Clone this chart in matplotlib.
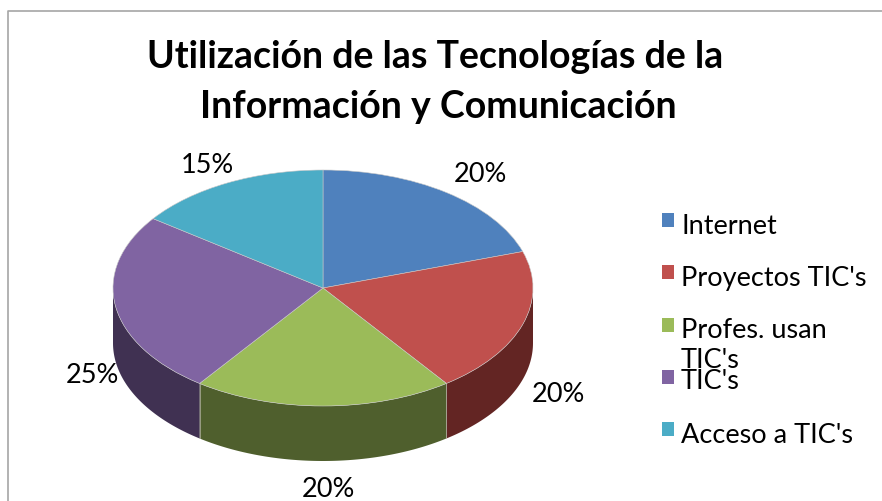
import numpy as np
import matplotlib
matplotlib.use("Agg")
import matplotlib.pyplot as plt
from matplotlib.patches import Rectangle

categories = ["Internet", "Proyectos TIC's", "Profes. usan\nTIC's", "TIC's", "Acceso a TIC's"]
values = [20, 20, 20, 25, 15]
top_colors = ["#4F81BD", "#C0504D", "#9BBB59", "#8064A2", "#4BACC6"]
side_colors = ["#2F4D71", "#632523", "#4F5F2D", "#403152", "#276A7C"]
title_lines = "Utilización de las Tecnologías de la\nInformación y Comunicación"

W, H = 882, 502
CX, CY, RX, RY, DEPTH = 323, 289, 210, 118, 55
plt.rcParams["font.family"] = ["Lato", "DejaVu Sans"]

fig = plt.figure(figsize=(W / 100, H / 100), dpi=100, facecolor="white")
ax = fig.add_axes([0, 0, 1, 1])

def fx(px):
    return px / W

def fy(py):
    return 1 - py / H

# Chart-area border: only top and left are visible inside the image
fig.add_artist(plt.Line2D([fx(8), fx(8), fx(882)], [fy(502), fy(11.5), fy(11.5)],
                          color="#A6A6A6", lw=1.2))

wedges, _ = ax.pie(values, colors=top_colors, startangle=90, counterclock=False,
                   radius=1, center=(0, 0),
                   wedgeprops=dict(edgecolor="#C8C8C8", linewidth=0.4, zorder=5))
ax.set_aspect("auto")
ax.set_xlim(-CX / RX, (W - CX) / RX)
ax.set_ylim((CY - H) / RY, CY / RY)
ax.set_axis_off()

# Extruded rim under the pie, drawn from the same values
depth = DEPTH / RY
edges = 90 - np.cumsum([0] + values) / sum(values) * 360
for a0, a1, col in zip(edges[:-1], edges[1:], side_colors):
    lo, hi = max(a1, -180), min(a0, 0)
    if lo < hi:
        t = np.radians(np.linspace(hi, lo, 120))
        x, y = np.cos(t), np.sin(t)
        ax.fill(np.r_[x, x[::-1]], np.r_[y, y[::-1] - depth], color=col, lw=0, zorder=2)
for a in edges:
    if -180 < a < 0:
        xb, yb = np.cos(np.radians(a)), np.sin(np.radians(a))
        ax.plot([xb, xb], [yb, yb - depth], color="#B5B5A5", lw=0.5, zorder=3)

# Percentage labels
shares = [v / sum(values) for v in values]
label_px = [(480, 174), (558, 395), (328, 490), (92, 376), (207, 166)]
for s, (px, py) in zip(shares, label_px):
    fig.text(fx(px), fy(py), f"{s:.0%}", ha="center", va="center", fontsize=19.5, color="black")

# Title
fig.text(fx(435), fy(57), title_lines.split("\n")[0], ha="center", va="center",
         fontsize=27, fontweight="bold", color="black")
fig.text(fx(438), fy(107), title_lines.split("\n")[1], ha="center", va="center",
         fontsize=27, fontweight="bold", color="black")

# Legend
swatch_py = [214, 266, 319, 371, 423]
text_py = [234, 286, 338, 389, 443]
for name, col, sy, ty in zip(categories, top_colors, swatch_py, text_py):
    fig.add_artist(Rectangle((fx(662), fy(sy + 14)), 12 / W, 14 / H, transform=fig.transFigure,
                             facecolor=col, edgecolor="none"))
    parts = name.split("\n")
    for i, part in enumerate(parts):
        fig.text(fx(681), fy(ty + i * 30), part, ha="left", va="baseline",
                 fontsize=19.5, color="black")

fig.savefig("out.png", dpi=100)
